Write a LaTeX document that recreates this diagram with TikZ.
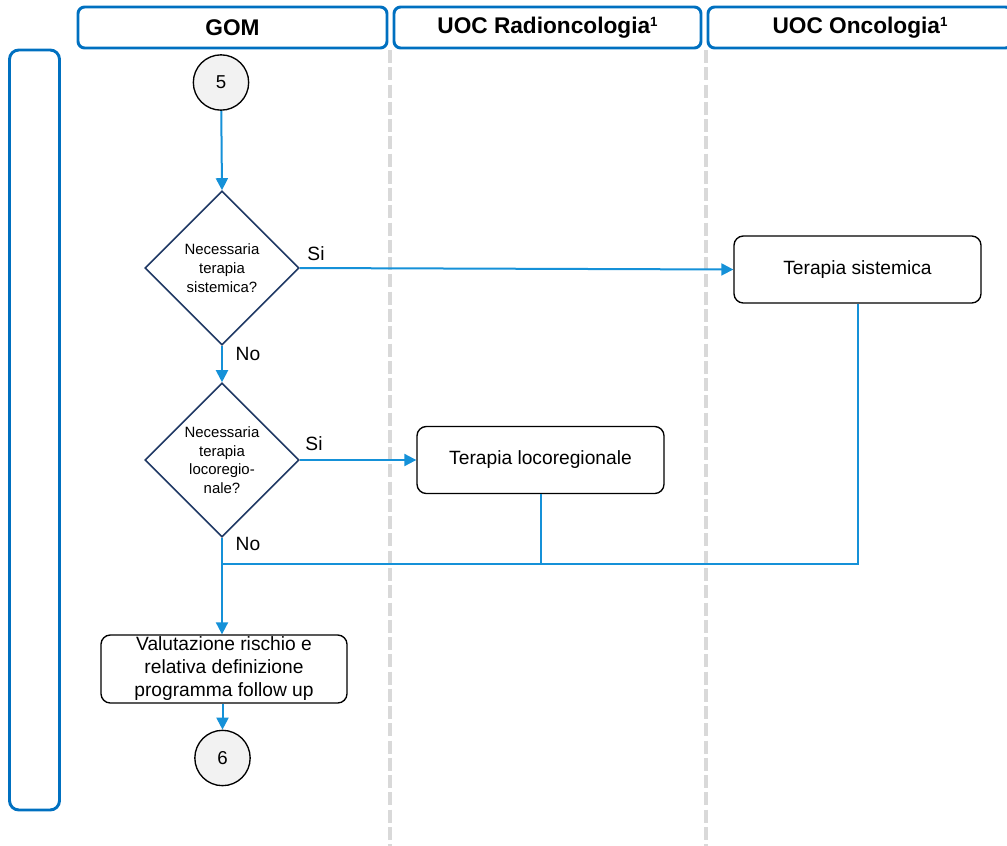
\documentclass[tikz,border=0pt]{standalone}
\usepackage{fontspec}
\setmainfont{Liberation Sans}
\usetikzlibrary{shapes.geometric,arrows.meta}
\definecolor{laneblue}{HTML}{0070C0}
\definecolor{flowblue}{HTML}{1591D8}
\definecolor{navy}{HTML}{1F3864}
\definecolor{sepgray}{HTML}{D9D9D9}
\definecolor{circfill}{HTML}{F2F2F2}
\newcommand{\supone}{\raisebox{0.55ex}{\fontsize{10}{10}\selectfont 1}}
\tikzset{
  lanehead/.style={draw=laneblue, line width=2.2pt, rounded corners=5pt,
    font=\fontsize{17}{20}\selectfont\bfseries, inner sep=0pt,
    minimum height=30.75pt},
  lanebar/.style={draw=laneblue, line width=2.2pt, rounded corners=7pt,
    minimum width=37.5pt, minimum height=570pt, inner sep=0pt},
  sep/.style={draw=sepgray, line width=3.2pt, dash pattern=on 9.75pt off 3.2pt},
  conn/.style={draw=black, line width=1pt, fill=circfill, circle,
    minimum size=41.5pt, inner sep=0pt, font=\fontsize{14}{17}\selectfont},
  task/.style={draw=black, line width=1pt, rounded corners=7pt, align=center,
    inner sep=0pt, font=\fontsize{14.4}{17.25}\selectfont},
  decision/.style={draw=navy, line width=1.2pt, diamond, aspect=1,
    minimum size=115.5pt, inner sep=0pt, align=center,
    font=\fontsize{11.2}{14}\selectfont},
  flow/.style={draw=flowblue, line width=1.5pt},
  arr/.style={flow, -{Triangle[length=9pt,width=9pt]}},
  lbl/.style={font=\fontsize{14.4}{17}\selectfont, inner sep=0pt}
}
\begin{document}
\begin{tikzpicture}[x=0.75pt,y=-0.75pt]
\useasboundingbox (0,0) rectangle (1007,846);

% lane separators
\coordinate (s1t) at (390,50);
\coordinate (s1b) at (390,846);
\coordinate (s2t) at (706,50);
\coordinate (s2b) at (706,846);
\draw[sep] (s1t) -- (s1b);
\draw[sep] (s2t) -- (s2b);

% lane headers and side bar
\node[lanehead, minimum width=231.75pt] (gom) at (232.5,27.5) {GOM};
\node[lanehead, minimum width=230.25pt] (radio) at (547.5,27.5) {UOC Radioncologia\supone};
\node[lanehead, minimum width=228pt] (onco) at (860,27.5) {UOC Oncologia\supone};
\node[lanebar] (bar) at (34.5,430) {};

% flow elements
\node[conn] (c5) at (221,82.5) {5};
\node[decision] (d1) at (222,268) {Necessaria\\terapia\\sistemica?};
\node[decision] (d2) at (222,460) {Necessaria\\terapia\\locoregio-\\nale?};
\node[task, minimum width=185.25pt, minimum height=50.25pt] (ts) at (857.5,269.5) {Terapia sistemica};
\node[task, minimum width=185.25pt, minimum height=50.25pt] (tl) at (540.5,460) {Terapia locoregionale};
\node[task, minimum width=184.5pt, minimum height=51pt] (val) at (224,669) {Valutazione rischio e\\relativa definizione\\programma follow up};
\node[conn] (c6) at (222.5,758) {6};

% branch labels
\node[lbl] (si1) at (316,254) {Si};
\node[lbl] (no1) at (248,354) {No};
\node[lbl] (si2) at (314,444) {Si};
\node[lbl] (no2) at (248,544) {No};

% connectors
\coordinate (merge) at (222,564);
\draw[arr] (c5) -- (d1.north);
\draw[arr] (d1.east) -- (ts.west);
\draw[arr] (d1.south) -- (d2.north);
\draw[arr] (d2.east) -- (tl.west);
\draw[arr] (d2.south) -- (d2.south |- val.north);
\draw[arr] (val.south -| c6) -- (c6.north);
\draw[flow] (ts.south) |- (merge);
\draw[flow] (tl.south) -- (tl.south |- merge);
\end{tikzpicture}
\end{document}
